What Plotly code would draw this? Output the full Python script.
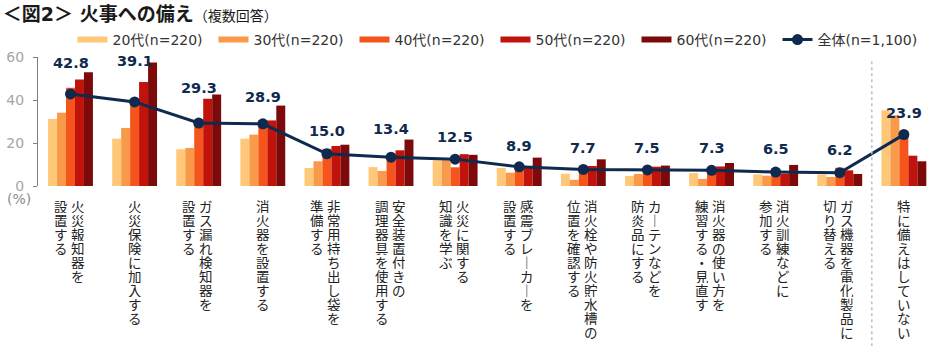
import plotly.graph_objects as go

# ---- data ----
categories = [
    ["火災報知器を", "設置する"],
    ["火災保険に加入する"],
    ["ガス漏れ検知器を", "設置する"],
    ["消火器を設置する"],
    ["非常用持ち出し袋を", "準備する"],
    ["安全装置付きの", "調理器具を使用する"],
    ["火災に関する", "知識を学ぶ"],
    ["感震ブレーカーを", "設置する"],
    ["消火栓や防火貯水槽の", "位置を確認する"],
    ["カーテンなどを", "防炎品にする"],
    ["消火器の使い方を", "練習する・見直す"],
    ["消火訓練などに", "参加する"],
    ["ガス機器を電化製品に", "切り替える"],
    ["特に備えはしていない"],
]
series_names = ["20代(n=220)", "30代(n=220)", "40代(n=220)", "50代(n=220)", "60代(n=220)"]
overall_name = "全体(n=1,100)"

s20 = [31.2, 22.0, 17.1, 22.0, 8.4, 8.8, 12.0, 8.4, 5.7, 4.7, 6.0, 5.4, 5.4, 35.2]
s30 = [34.1, 27.0, 17.7, 23.9, 11.5, 7.0, 12.0, 6.2, 2.9, 5.6, 3.3, 4.8, 4.2, 32.9]
s40 = [45.7, 40.5, 28.5, 30.7, 17.3, 13.0, 8.7, 7.9, 8.2, 8.5, 7.4, 6.8, 8.5, 25.8]
s50 = [49.5, 48.4, 40.6, 30.5, 18.6, 16.6, 14.8, 8.8, 9.3, 9.0, 9.1, 5.7, 7.3, 14.1]
s60 = [52.9, 57.5, 42.6, 37.4, 19.2, 21.6, 14.5, 13.2, 12.4, 9.5, 10.7, 9.8, 5.6, 11.5]
overall = [42.8, 39.1, 29.3, 28.9, 15.0, 13.4, 12.5, 8.9, 7.7, 7.5, 7.3, 6.5, 6.2, 23.9]

y_ticks = [0, 20, 40, 60]

# ---- styling ----
bar_colors = ["#FFC878", "#F99A4A", "#F5541A", "#C0130C", "#7D0A0A"]
navy = "#0E2A4F"
latin_cjk = "DejaVu Sans, Noto Sans CJK JP, sans-serif"
cjk = "Noto Sans CJK JP, sans-serif"
label_lift = [31, 41, 35, 27, 23, 28, 22, 21, 21.5, 21.7, 22, 22.7, 22.7, 21.4]

x = list(range(len(categories)))
fig = go.Figure()

for name, vals, col in zip(series_names, [s20, s30, s40, s50, s60], bar_colors):
    fig.add_trace(go.Bar(x=x, y=vals, name=name, marker=dict(color=col, line=dict(width=0)),
                         showlegend=False, hoverinfo="y"))
    # legend swatch (wide flat bar like the reference)
    fig.add_trace(go.Scatter(x=[None], y=[None], mode="lines", name=name,
                             line=dict(color=col, width=6), showlegend=True))

fig.add_trace(go.Scatter(x=x, y=overall, name=overall_name, mode="lines+markers",
                         line=dict(color=navy, width=3),
                         marker=dict(color=navy, size=11), showlegend=True))

annotations = []
for i, v in enumerate(overall):
    annotations.append(dict(x=i, y=v, xref="x", yref="y", text=f"<b>{v:.1f}</b>",
                            showarrow=False, yshift=label_lift[i], yanchor="middle",
                            font=dict(family=latin_cjk, size=14.5, color=navy)))

# vertical (tategaki) category labels, one character per annotation
pitch = 14.1
first = 19.5
for i, cols in enumerate(categories):
    if len(cols) == 1:
        shifts = [0]
    else:
        shifts = [7.5, -9.5]
    for col_text, xs in zip(cols, shifts):
        for k, ch in enumerate(col_text):
            ch = ch.replace("ー", "｜")
            annotations.append(dict(x=i, y=0, xref="x", yref="y", text=ch, showarrow=False,
                                    xshift=xs, yshift=-(first + k * pitch),
                                    xanchor="center", yanchor="middle",
                                    height=14, valign="middle",
                                    font=dict(family=cjk, size=13.5, color="#222222")))

annotations.append(dict(x=0, y=0, xref="paper", yref="y", text="(%)", showarrow=False,
                        xanchor="right", xshift=-5, yshift=-13, yanchor="middle",
                        font=dict(family=latin_cjk, size=14, color="#8c8c8c")))

fig.update_layout(
    width=934, height=346,
    margin=dict(l=38, r=0, t=57, b=160),
    paper_bgcolor="white", plot_bgcolor="white",
    barmode="group", bargap=0.3, bargroupgap=0,
    title=dict(text="<b>＜図2＞ 火事への備え</b><span style='font-size:14px'>（複数回答）</span>",
               x=0.003, xref="container", xanchor="left",
               y=1 - 14 / 346, yref="container", yanchor="middle",
               font=dict(family=latin_cjk, size=19, color="#1a1a1a")),
    legend=dict(orientation="h", x=0.0385, xanchor="left", y=1.132, yanchor="middle",
                font=dict(family=latin_cjk, size=14, color="#333333"),
                bgcolor="rgba(0,0,0,0)", traceorder="normal",
                entrywidth=96, entrywidthmode="pixels", itemclick=False),
    xaxis=dict(range=[-0.507, 13.47], showticklabels=False, showgrid=False,
               zeroline=False, showline=False, fixedrange=True),
    yaxis=dict(range=[0, 60], tickvals=y_ticks, showgrid=False, zeroline=False,
               showline=True, linecolor="#7f7f7f", linewidth=1,
               ticks="outside", ticklen=4, tickcolor="#7f7f7f",
               tickfont=dict(family=latin_cjk, size=14, color="#a6a6a6"),
               ticklabelstandoff=6, fixedrange=True),
    annotations=annotations,
    shapes=[dict(type="line", xref="x", yref="paper", x0=12.5, x1=12.5,
                 y0=-(346 - 185.7) / 129, y1=(185.7 - 60) / 129,
                 line=dict(color="#c0c0c0", width=1.5, dash="dot"))],
    showlegend=True,
)

fig.write_html("out.html")
